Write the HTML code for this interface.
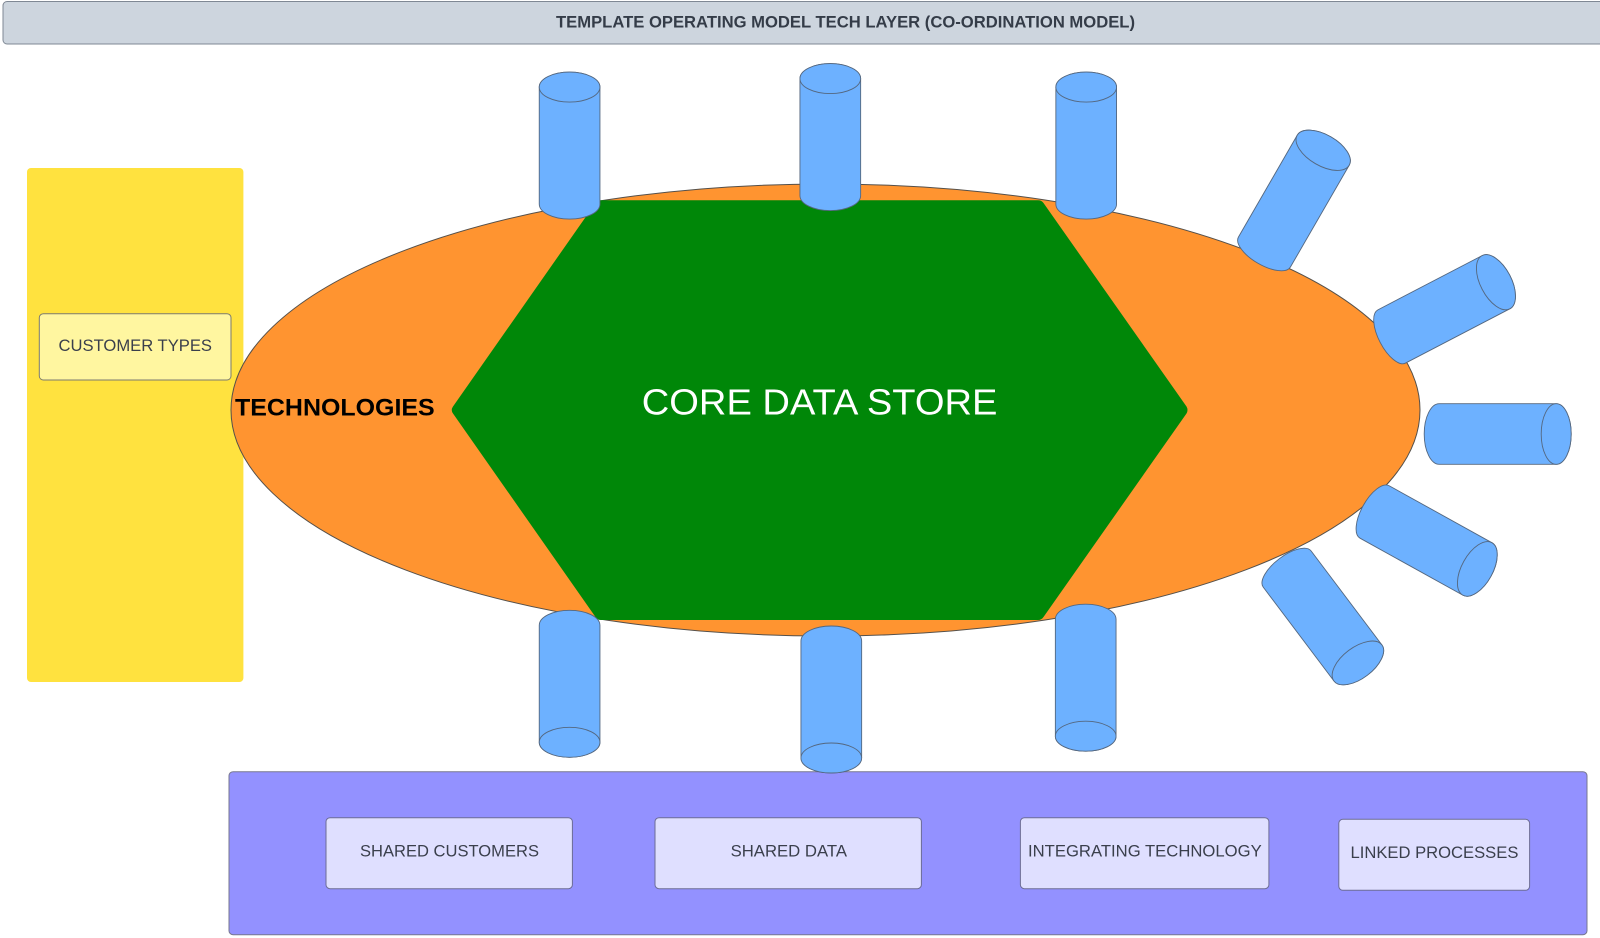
<!DOCTYPE html>
<html>
<head>
<meta charset="utf-8">
<style>
html,body{margin:0;padding:0;background:#fff;width:1600px;height:938px;overflow:hidden}
svg{display:block}
text{font-family:"Liberation Sans",sans-serif}
.t{font-size:16.6px;fill:#3a3f4c}
.c path,.c ellipse{fill:#6db1ff;stroke:#54677f;stroke-width:.9}
</style>
</head>
<body>
<svg width="1600" height="938" viewBox="0 0 1600 938" xmlns="http://www.w3.org/2000/svg">
<defs>
<g id="cyl" class="c">
<path d="M-30.35,-58.5 A30.35,15 0 0 1 30.35,-58.5 V58.5 A30.35,15 0 0 1 -30.35,58.5 Z"/>
<ellipse cx="0" cy="-58.5" rx="30.35" ry="15"/>
</g>
<g id="cyr" class="c">
<path d="M-30,-58 A30,15.5 0 0 1 30,-58 V59.5 A30,13 0 0 1 -30,59.5 Z"/>
<ellipse cx="0" cy="-58" rx="30" ry="15.5"/>
</g>
</defs>

<!-- title -->
<rect x="3" y="1.5" width="1640" height="42.5" rx="4" fill="#cdd5de" stroke="#7f8894" stroke-width="1"/>
<text x="556" y="27.6" font-size="16.8" font-weight="bold" fill="#343c48" textLength="579" lengthAdjust="spacingAndGlyphs">TEMPLATE OPERATING MODEL TECH LAYER (CO-ORDINATION MODEL)</text>

<!-- yellow panel -->
<rect x="27" y="168" width="216.4" height="514" rx="4" fill="#ffe23f"/>
<rect x="39.3" y="313.7" width="191.7" height="66.3" rx="4" fill="#fff6a0" stroke="#7b7b70" stroke-width="1"/>
<text class="t" x="58.5" y="351" textLength="153.5" lengthAdjust="spacingAndGlyphs">CUSTOMER TYPES</text>

<!-- ellipse -->
<ellipse cx="825.5" cy="410" rx="594.5" ry="226" fill="#ff9430" stroke="#55504a" stroke-width="1"/>

<!-- hexagon -->
<path d="M601,200.3 H1038 Q1041.5,200.3 1043.5,203 L1186.5,406.5 Q1188.5,410 1186.5,413.5 L1043.5,617 Q1041.5,620 1038,620 H601 Q597.5,620 595.5,617 L453,413.5 Q450.5,410 453,406.5 L595.5,203 Q597.5,200.3 601,200.3 Z" fill="#008708"/>

<!-- technologies & core -->
<text x="235" y="415.5" font-size="24" font-weight="bold" fill="#000" textLength="199.7" lengthAdjust="spacingAndGlyphs">TECHNOLOGIES</text>
<text x="641.8" y="414.3" font-size="36" fill="#fff" textLength="355.6" lengthAdjust="spacingAndGlyphs">CORE DATA STORE</text>

<!-- purple panel -->
<rect x="229" y="771.7" width="1358" height="163" rx="4" fill="#9391ff" stroke="#77778f" stroke-width="1"/>
<rect x="326" y="817.7" width="246.4" height="71" rx="4" fill="#dfdfff" stroke="#6d6d96" stroke-width="1"/>
<text class="t" x="360" y="856.7" textLength="179" lengthAdjust="spacingAndGlyphs">SHARED CUSTOMERS</text>
<rect x="655" y="817.7" width="266.4" height="71" rx="4" fill="#dfdfff" stroke="#6d6d96" stroke-width="1"/>
<text class="t" x="730.6" y="856.7" textLength="116.4" lengthAdjust="spacingAndGlyphs">SHARED DATA</text>
<rect x="1020.4" y="817.7" width="248.5" height="71" rx="4" fill="#dfdfff" stroke="#6d6d96" stroke-width="1"/>
<text class="t" x="1028" y="856.7" textLength="233.7" lengthAdjust="spacingAndGlyphs">INTEGRATING TECHNOLOGY</text>
<rect x="1338.8" y="819.3" width="190.8" height="71" rx="4" fill="#dfdfff" stroke="#6d6d96" stroke-width="1"/>
<text class="t" x="1350.5" y="858.2" textLength="167.9" lengthAdjust="spacingAndGlyphs">LINKED PROCESSES</text>

<!-- cylinders -->
<use href="#cyl" transform="translate(569.6,145.6)"/>
<use href="#cyl" transform="translate(830.3,137.1)"/>
<use href="#cyl" transform="translate(1086.2,145.6)"/>
<use href="#cyl" transform="translate(569.6,683.8) rotate(180)"/>
<use href="#cyl" transform="translate(831.3,699.5) rotate(180)"/>
<use href="#cyl" transform="translate(1085.7,677.7) rotate(180)"/>
<use href="#cyr" transform="translate(1294.2,200.5) rotate(30)"/>
<use href="#cyr" transform="translate(1444.5,309) rotate(62.5)"/>
<use href="#cyl" transform="translate(1497.7,434) rotate(90)"/>
<use href="#cyr" transform="translate(1426.6,540.8) rotate(119)"/>
<use href="#cyr" transform="translate(1323,616.6) rotate(143)"/>
</svg>
</body>
</html>
